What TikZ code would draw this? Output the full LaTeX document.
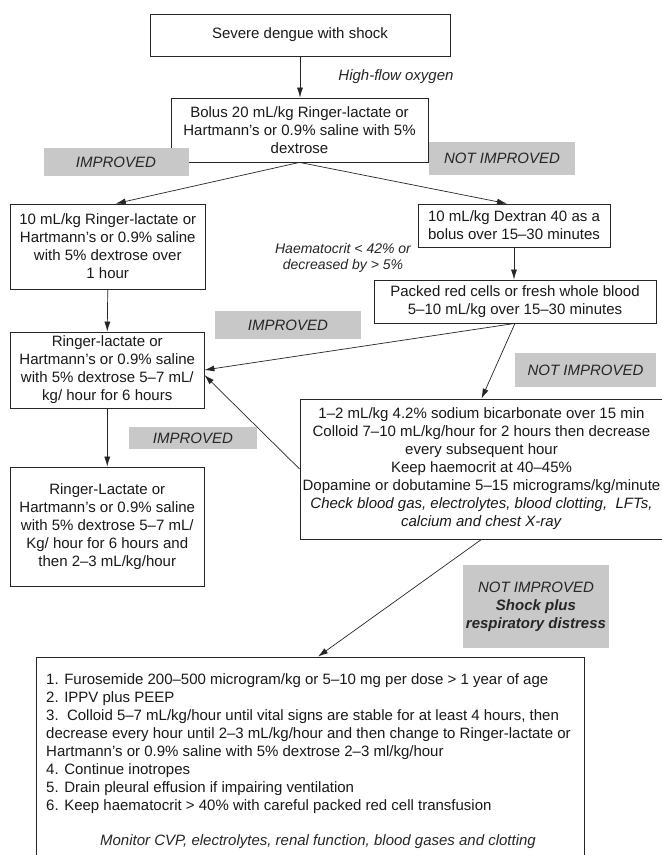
\documentclass[tikz,border=0pt]{standalone}
\usepackage{fontspec}
\setmainfont{Liberation Sans}
\usetikzlibrary{arrows.meta}
\definecolor{boxgray}{RGB}{200,200,200}
\begin{document}
\begin{tikzpicture}[x=1pt,y=-1pt,
  font=\fontsize{15}{18}\selectfont,
  box/.style={draw=black!85, line width=0.8pt, inner sep=0pt, align=center, text=black!90},
  tag/.style={fill=boxgray, inner sep=0pt, align=center, font=\fontsize{15}{18}\selectfont\itshape, text=black!85},
  arr/.style={draw=black!85, line width=0.7pt, -{Latex[length=10pt,width=6pt]}},
  note/.style={font=\fontsize{15}{18}\selectfont\itshape, align=center, inner sep=0pt, text=black!85}
]
\useasboundingbox (0,0) rectangle (662,855);
\clip (0,0) rectangle (662,855);
\fill[white] (0,0) rectangle (662,855);

\node[box, minimum width=300pt, minimum height=42pt] (top) at (300,35) {Severe dengue with shock};
\node[box, minimum width=257pt, minimum height=64pt] (bolus) at (299.5,130) {Bolus 20 mL/kg Ringer-lactate or\\Hartmann’s or 0.9\% saline with 5\%\\dextrose};
\node[box, minimum width=194.5pt, minimum height=85pt] (L1) at (107.75,246.5) {10 mL/kg Ringer-lactate or\\Hartmann’s or 0.9\% saline\\with 5\% dextrose over\\1 hour};
\node[box, minimum width=192pt, minimum height=43pt] (dex) at (514,225.5) {10 mL/kg Dextran 40 as a\\bolus over 15–30 minutes};
\node[box, minimum width=282pt, minimum height=43pt] (packed) at (515,301.5) {Packed red cells or fresh whole blood\\5–10 mL/kg over 15–30 minutes};
\node[box, minimum width=193.5pt, minimum height=76pt] (L2) at (107.25,370) {Ringer-lactate or\\Hartmann’s or 0.9\% saline\\with 5\% dextrose 5–7 mL/\\kg/ hour for 6 hours};
\node[box, minimum width=193.5pt, minimum height=119pt] (L3) at (107.25,526.5) {Ringer-Lactate or\\Hartmann’s or 0.9\% saline\\with 5\% dextrose 5–7 mL/\\Kg/ hour for 6 hours and\\then 2–3 mL/kg/hour};
\node[box, minimum width=363pt, minimum height=140pt] (bic) at (481.5,469) {1–2 mL/kg 4.2\% sodium bicarbonate over 15 min\\Colloid 7–10 mL/kg/hour for 2 hours then decrease\\every subsequent hour\\Keep haemocrit at 40–45\%\\Dopamine or dobutamine 5–15 micrograms/kg/minute\\\textit{Check blood gas, electrolytes, blood clotting,\ \ LFTs,}\\\textit{calcium and chest X-ray}};
\node[box, minimum width=548pt, minimum height=230pt] (final) at (310,772) {};
\node[anchor=north west, inner sep=0pt, align=left, text=black!90] (list) at (46,673.5) {1. Furosemide 200–500 microgram/kg or 5–10 mg per dose > 1 year of age\\2. IPPV plus PEEP\\3.\ \ Colloid 5–7 mL/kg/hour until vital signs are stable for at least 4 hours, then\\decrease every hour until 2–3 mL/kg/hour and then change to Ringer-lactate or\\Hartmann’s or 0.9\% saline with 5\% dextrose 2–3 ml/kg/hour\\4. Continue inotropes\\5. Drain pleural effusion if impairing ventilation\\6. Keep haematocrit > 40\% with careful packed red cell transfusion};
\node[note] (monitor) at (318,842) {Monitor CVP, electrolytes, renal function, blood gases and clotting};

\node[note] (oxy) at (396,77) {High-flow oxygen};
\node[note, font=\fontsize{14}{16}\selectfont\itshape] (hct) at (343,258) {Haematocrit < 42\% or\\decreased by > 5\%};

\draw[arr] (top.south) -- (top.south |- bolus.north);
\draw[arr] (bolus.south) -- ([xshift=8pt]L1.north);
\draw[arr] (bolus.south) -- ([xshift=-7pt]dex.north);
\draw[arr] (L1.south) -- (L2.north);
\draw[arr] (dex.south) -- (dex.south |- packed.north);
\draw[arr] (packed.south) -- (L2.east);
\draw[arr] (packed.south) -- (bic.north);
\draw[arr] (bic.west) -- ([yshift=-5pt]L2.east);
\draw[arr] (L2.south) -- (L3.north);
\draw[arr] (bic.south) -- ([xshift=8pt]final.north);

\node[tag, minimum width=145pt, minimum height=28pt] (g1) at (116,162) {IMPROVED};
\node[tag, minimum width=146pt, minimum height=33pt] (g2) at (502,158.5) {NOT IMPROVED};
\node[tag, minimum width=146pt, minimum height=28pt] (g3) at (288,325) {IMPROVED};
\node[tag, minimum width=141pt, minimum height=34pt] (g4) at (585.5,370) {NOT IMPROVED};
\node[tag, minimum width=128pt, minimum height=22pt] (g5) at (193,438) {IMPROVED};
\node[tag, minimum width=146pt, minimum height=83pt] (g6) at (536,606.5) {NOT IMPROVED\\\textbf{Shock plus}\\\textbf{respiratory distress}};
\end{tikzpicture}
\end{document}
